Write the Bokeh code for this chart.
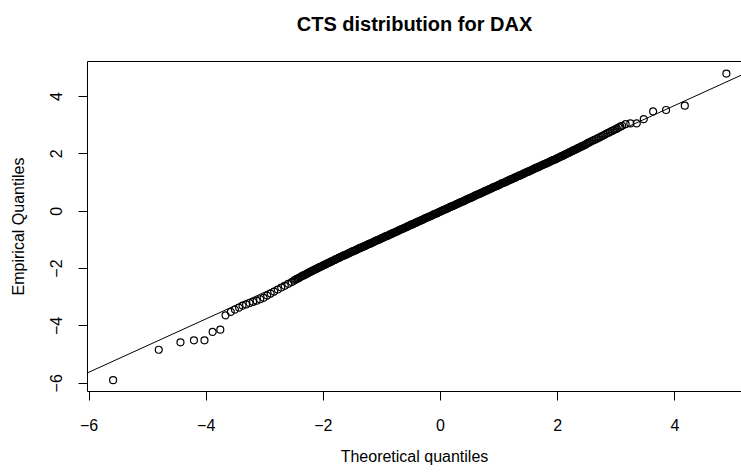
from bokeh.plotting import figure
from bokeh.models import Range1d, FixedTicker, LinearAxis, Slope, ColumnDataSource
from bokeh.embed import file_html
from bokeh.resources import INLINE

# ---- data ----
title_text = "CTS distribution for DAX"
x_label = "Theoretical quantiles"
y_label = "Empirical Quantiles"
x_ticks = [-6, -4, -2, 0, 2, 4]
y_ticks = [-6, -4, -2, 0, 2, 4]

# lower tail (theoretical, empirical)
lower_theo = [-5.59, -4.81, -4.44, -4.21, -4.03, -3.89, -3.76, -3.67, -3.58, -3.51,
              -3.44, -3.38, -3.32, -3.26, -3.20, -3.14, -3.08, -3.02, -2.96, -2.90,
              -2.84, -2.78, -2.72, -2.66, -2.60, -2.54]
lower_emp = [-5.89, -4.83, -4.57, -4.50, -4.50, -4.21, -4.13, -3.63, -3.51, -3.43,
             -3.36, -3.29, -3.25, -3.20, -3.16, -3.12, -3.07, -3.02, -2.94, -2.87,
             -2.80, -2.73, -2.66, -2.60, -2.53, -2.47]

# central part of the sample (dense band)
core_theo = [
    -2.50, -2.48, -2.46, -2.44, -2.42, -2.40, -2.38, -2.36, -2.34, -2.32,
    -2.30, -2.28, -2.26, -2.24, -2.22, -2.20, -2.18, -2.16, -2.14, -2.12,
    -2.10, -2.08, -2.06, -2.04, -2.02, -2.00, -1.98, -1.96, -1.94, -1.92,
    -1.90, -1.88, -1.86, -1.84, -1.82, -1.80, -1.78, -1.76, -1.74, -1.72,
    -1.70, -1.68, -1.66, -1.64, -1.62, -1.60, -1.58, -1.56, -1.54, -1.52,
    -1.50, -1.48, -1.46, -1.44, -1.42, -1.40, -1.38, -1.36, -1.34, -1.32,
    -1.30, -1.28, -1.26, -1.24, -1.22, -1.20, -1.18, -1.16, -1.14, -1.12,
    -1.10, -1.08, -1.06, -1.04, -1.02, -1.00, -0.98, -0.96, -0.94, -0.92,
    -0.90, -0.88, -0.86, -0.84, -0.82, -0.80, -0.78, -0.76, -0.74, -0.72,
    -0.70, -0.68, -0.66, -0.64, -0.62, -0.60, -0.58, -0.56, -0.54, -0.52,
    -0.50, -0.48, -0.46, -0.44, -0.42, -0.40, -0.38, -0.36, -0.34, -0.32,
    -0.30, -0.28, -0.26, -0.24, -0.22, -0.20, -0.18, -0.16, -0.14, -0.12,
    -0.10, -0.08, -0.06, -0.04, -0.02, 0.00, 0.02, 0.04, 0.06, 0.08,
    0.10, 0.12, 0.14, 0.16, 0.18, 0.20, 0.22, 0.24, 0.26, 0.28,
    0.30, 0.32, 0.34, 0.36, 0.38, 0.40, 0.42, 0.44, 0.46, 0.48,
    0.50, 0.52, 0.54, 0.56, 0.58, 0.60, 0.62, 0.64, 0.66, 0.68,
    0.70, 0.72, 0.74, 0.76, 0.78, 0.80, 0.82, 0.84, 0.86, 0.88,
    0.90, 0.92, 0.94, 0.96, 0.98, 1.00, 1.02, 1.04, 1.06, 1.08,
    1.10, 1.12, 1.14, 1.16, 1.18, 1.20, 1.22, 1.24, 1.26, 1.28,
    1.30, 1.32, 1.34, 1.36, 1.38, 1.40, 1.42, 1.44, 1.46, 1.48,
    1.50, 1.52, 1.54, 1.56, 1.58, 1.60, 1.62, 1.64, 1.66, 1.68,
    1.70, 1.72, 1.74, 1.76, 1.78, 1.80, 1.82, 1.84, 1.86, 1.88,
    1.90, 1.92, 1.94, 1.96, 1.98, 2.00, 2.02, 2.04, 2.06, 2.08,
    2.10, 2.12, 2.14, 2.16, 2.18, 2.20, 2.22, 2.24, 2.26, 2.28,
    2.30, 2.32, 2.34, 2.36, 2.38, 2.40, 2.42, 2.44, 2.46, 2.48,
    2.50]
core_emp = [
    -2.42, -2.39, -2.37, -2.35, -2.33, -2.31, -2.28, -2.26, -2.24, -2.22,
    -2.20, -2.18, -2.15, -2.13, -2.11, -2.09, -2.07, -2.05, -2.03, -2.01,
    -1.99, -1.97, -1.95, -1.93, -1.91, -1.89, -1.87, -1.85, -1.83, -1.81,
    -1.79, -1.77, -1.75, -1.73, -1.71, -1.69, -1.67, -1.65, -1.63, -1.61,
    -1.59, -1.57, -1.55, -1.54, -1.52, -1.50, -1.48, -1.46, -1.44, -1.42,
    -1.40, -1.39, -1.37, -1.35, -1.33, -1.31, -1.29, -1.27, -1.26, -1.24,
    -1.22, -1.20, -1.18, -1.16, -1.14, -1.13, -1.11, -1.09, -1.07, -1.05,
    -1.03, -1.01, -1.00, -0.98, -0.96, -0.94, -0.92, -0.90, -0.88, -0.87,
    -0.85, -0.83, -0.81, -0.79, -0.77, -0.75, -0.74, -0.72, -0.70, -0.68,
    -0.66, -0.64, -0.62, -0.61, -0.59, -0.57, -0.55, -0.53, -0.51, -0.49,
    -0.47, -0.46, -0.44, -0.42, -0.40, -0.38, -0.36, -0.34, -0.33, -0.31,
    -0.29, -0.27, -0.25, -0.23, -0.21, -0.20, -0.18, -0.16, -0.14, -0.12,
    -0.10, -0.08, -0.07, -0.05, -0.03, -0.01, 0.01, 0.03, 0.05, 0.06,
    0.08, 0.10, 0.12, 0.14, 0.16, 0.18, 0.19, 0.21, 0.23, 0.25,
    0.27, 0.29, 0.31, 0.32, 0.34, 0.36, 0.38, 0.40, 0.42, 0.44,
    0.45, 0.47, 0.49, 0.51, 0.53, 0.55, 0.57, 0.59, 0.60, 0.62,
    0.64, 0.66, 0.68, 0.70, 0.72, 0.73, 0.75, 0.77, 0.79, 0.81,
    0.83, 0.85, 0.86, 0.88, 0.90, 0.92, 0.94, 0.96, 0.98, 0.99,
    1.01, 1.03, 1.05, 1.07, 1.09, 1.11, 1.12, 1.14, 1.16, 1.18,
    1.20, 1.22, 1.24, 1.25, 1.27, 1.29, 1.31, 1.33, 1.35, 1.37,
    1.38, 1.40, 1.42, 1.44, 1.46, 1.48, 1.50, 1.52, 1.53, 1.55,
    1.57, 1.59, 1.61, 1.63, 1.65, 1.66, 1.68, 1.70, 1.72, 1.74,
    1.76, 1.78, 1.79, 1.81, 1.83, 1.85, 1.87, 1.89, 1.91, 1.93,
    1.95, 1.97, 1.99, 2.01, 2.03, 2.05, 2.07, 2.09, 2.11, 2.13,
    2.15, 2.17, 2.19, 2.21, 2.23, 2.25, 2.27, 2.29, 2.31, 2.33,
    2.36]

# upper tail
upper_theo = [2.53, 2.56, 2.59, 2.62, 2.65, 2.68, 2.71, 2.74, 2.77, 2.80,
              2.83, 2.86, 2.89, 2.92, 2.95, 2.98, 3.01, 3.04, 3.07, 3.10,
              3.16, 3.24, 3.35, 3.47, 3.63, 3.85, 4.17, 4.88]
upper_emp = [2.39, 2.42, 2.45, 2.48, 2.51, 2.54, 2.57, 2.60, 2.63, 2.66,
             2.70, 2.73, 2.76, 2.79, 2.82, 2.85, 2.88, 2.92, 2.95, 2.98,
             3.04, 3.06, 3.06, 3.21, 3.48, 3.53, 3.68, 4.80]

# reference line (qqline)
line_slope = 0.93
line_intercept = -0.03

theo = lower_theo + core_theo + upper_theo
emp = lower_emp + core_emp + upper_emp
src = ColumnDataSource(dict(x=theo, y=emp))

FONT = "Liberation Sans"

p = figure(width=741, height=476, output_backend="svg", toolbar_location=None,
           x_range=Range1d(-6.027, 5.138), y_range=Range1d(-6.286, 5.221),
           min_border_left=87, min_border_right=0, min_border_top=61,
           min_border_bottom=85, x_axis_location="below", y_axis_location="left")
p.xgrid.visible = False
p.ygrid.visible = False
p.outline_line_color = None
p.background_fill_color = "white"
p.border_fill_color = "white"

for ax, ticks in ((p.xaxis[0], x_ticks), (p.yaxis[0], y_ticks)):
    ax.ticker = FixedTicker(ticks=ticks)
    ax.minor_tick_line_color = None
    ax.major_tick_in = 0
    ax.major_tick_out = 9
    ax.axis_line_color = "black"
    ax.major_tick_line_color = "black"
    ax.major_label_text_font = FONT
    ax.major_label_text_font_size = "16px"
    ax.major_label_text_color = "black"
    ax.axis_label_text_font = FONT
    ax.axis_label_text_font_size = "16px"
    ax.axis_label_text_font_style = "normal"
    ax.axis_label_text_color = "black"

p.xaxis[0].axis_label = x_label
p.xaxis[0].major_label_standoff = 18
p.xaxis[0].axis_label_standoff = 14
p.yaxis[0].axis_label = y_label
p.yaxis[0].major_label_orientation = "vertical"
p.yaxis[0].major_label_standoff = 16
p.yaxis[0].axis_label_standoff = 21

# top edge of the box; its label carries the chart title
top_axis = LinearAxis(ticker=FixedTicker(ticks=[]), axis_line_color="black",
                      major_tick_line_color=None, minor_tick_line_color=None,
                      major_tick_out=0, major_tick_in=0, major_label_standoff=0,
                      major_label_text_color=None, major_label_text_font_size="0px",
                      axis_label=title_text, axis_label_standoff=27,
                      axis_label_text_font=FONT, axis_label_text_font_size="20px",
                      axis_label_text_font_style="bold", axis_label_text_color="black")
p.add_layout(top_axis, "above")

p.add_layout(Slope(gradient=line_slope, y_intercept=line_intercept,
                   line_color="black", line_width=1))

p.scatter("x", "y", source=src, marker="circle", size=7,
          fill_color=None, line_color="black", line_width=1.2)

open("out.html", "w").write(file_html(p, INLINE))
